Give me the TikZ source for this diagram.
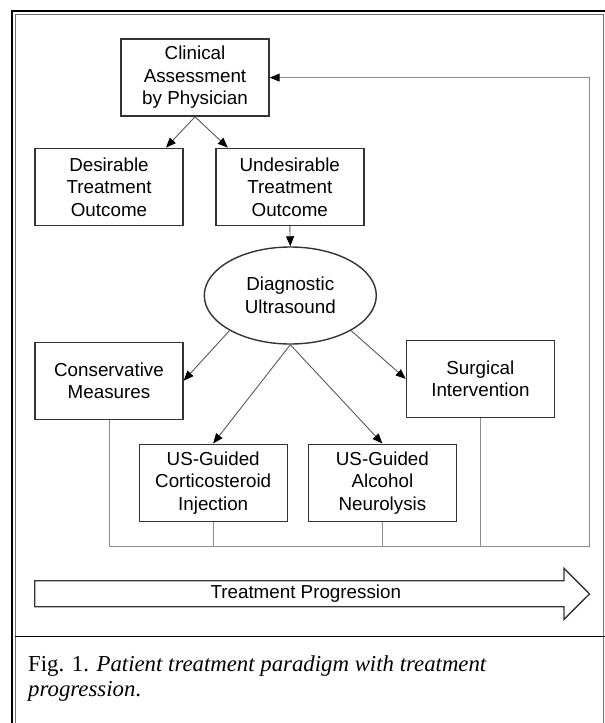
\documentclass[tikz,border=0pt]{standalone}
\usepackage{fontspec}
\setmainfont{Liberation Serif}
\newfontfamily\diagfont{Liberation Sans}
\usetikzlibrary{shapes.geometric,arrows.meta}
\begin{document}
\begin{tikzpicture}[x=1pt,y=-1pt,
  box/.style={draw=black!80,line width=1.4pt,minimum width=148pt,minimum height=77pt,
    inner sep=0pt,align=center,font=\diagfont\fontsize{18.8}{22.5}\selectfont},
  oval/.style={box,ellipse,minimum width=172pt,minimum height=97pt},
  link/.style={draw=black!65,line width=0.9pt,-{Triangle[length=10pt,width=8pt,color=black]}},
  back/.style={draw=black!45,line width=1pt}]
\useasboundingbox (0,0) rectangle (605,723);
\draw [line width=1.8pt] (11.8,723) -- (11.8,10.9) -- (605,10.9);
\draw [line width=0.8pt,black!55] (15,723) -- (15,14) -- (603.8,14) -- (603.8,723);
\draw [line width=1.2pt] (15,636.3) -- (605,636.3);
\node[box] (clin) at (195,77.6) {Clinical\\Assessment\\by Physician};
\node[box] (des) at (109,186.8) {Desirable\\Treatment\\Outcome};
\node[box] (und) at (289.8,186.8) {Undesirable\\Treatment\\Outcome};
\node[oval] (diag) at (290.3,295.5) {Diagnostic\\Ultrasound};
\node[box] (cons) at (109,380.7) {Conservative\\Measures};
\node[box] (surg) at (480.4,378.9) {Surgical\\Intervention};
\node[box] (cort) at (213.2,482.7) {US-Guided\\Corticosteroid\\Injection};
\node[box] (alc) at (382.4,482.7) {US-Guided\\Alcohol\\Neurolysis};
\draw [link] (clin.south) -- ([xshift=57pt]des.north);
\draw [link] (clin.south) -- ([xshift=-62pt]und.north);
\draw [link] (und.south) -- (diag.north);
\draw [link] (diag.210) -- (cons.east);
\draw [link] (diag.330) -- (surg.west);
\draw [link] (diag.south) -- (cort.north);
\draw [link] (diag.south) -- (alc.north);
\coordinate (turn) at (589.5,546);
\draw [back,-{Triangle[length=10pt,width=8pt,color=black]}] (cons.south) |- (turn) |- (clin.east);
\draw [back] (cort.south) -- (cort.south |- turn);
\draw [back] (alc.south) -- (alc.south |- turn);
\draw [back] (surg.south) -- (surg.south |- turn);
\draw [draw=black!80,line width=1.4pt] (34.7,580.7) -- (564,580.7) -- (564,568.3) -- (589.5,594)
  -- (564,619.3) -- (564,606.7) -- (34.7,606.7) -- cycle;
\node[font=\diagfont\fontsize{18.8}{22.5}\selectfont] (prog) at (305.8,593.7) {Treatment Progression};
\node[anchor=base west,inner sep=0pt,font=\fontsize{22.8}{25}\selectfont] (cap) at (28,671.7)
  {Fig. 1. \textit{Patient treatment paradigm with treatment}};
\node[anchor=base west,inner sep=0pt,font=\fontsize{22.8}{25}\selectfont] (capb) at (28,696.7)
  {\textit{progression}.};
\end{tikzpicture}
\end{document}
